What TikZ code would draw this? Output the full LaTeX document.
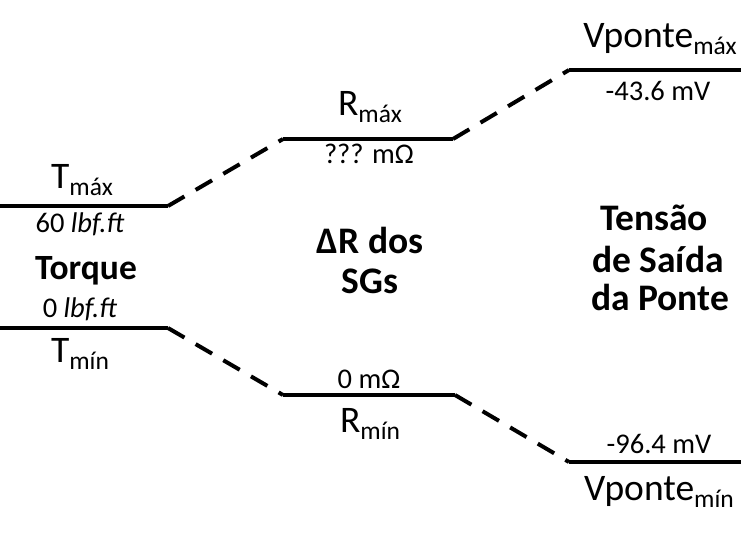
\documentclass[tikz,border=0pt]{standalone}
\usepackage{fontspec}
\setmainfont{Carlito}
\newcommand\lowsub[1]{\raisebox{-7.5pt}{\fontsize{25.5}{28}\selectfont #1}}
\begin{document}
\begin{tikzpicture}[x=1pt,y=-1pt,
  lvl/.style={line width=3.3pt},
  conn/.style={line width=4pt, dash pattern=on 19pt off 13pt},
  big/.style={font=\fontsize{37.5}{42}\selectfont, anchor=base, inner sep=0pt},
  val/.style={font=\fontsize{28.5}{32}\selectfont, anchor=base, inner sep=0pt},
  ttl/.style={font=\bfseries\fontsize{37.5}{42}\selectfont, anchor=base, inner sep=0pt},
]
\useasboundingbox (0,0) rectangle (752,533);
% level end points
\coordinate (tmaxL) at (0,206);   \coordinate (tmaxR) at (168,206);
\coordinate (rmaxL) at (283,139); \coordinate (rmaxR) at (453,139);
\coordinate (vmaxL) at (569,70);  \coordinate (vmaxR) at (741,70);
\coordinate (tminL) at (0,328);   \coordinate (tminR) at (168,328);
\coordinate (rminL) at (283,395); \coordinate (rminR) at (455,395);
\coordinate (vminL) at (569,462); \coordinate (vminR) at (741,462);
% levels
\draw[lvl] (tmaxL) -- (tmaxR);
\draw[lvl] (rmaxL) -- (rmaxR);
\draw[lvl] (vmaxL) -- (vmaxR);
\draw[lvl] (tminL) -- (tminR);
\draw[lvl] (rminL) -- (rminR);
\draw[lvl] (vminL) -- (vminR);
% connectors
\draw[conn] (tmaxR) -- (rmaxL);
\draw[conn] (rmaxR) -- (vmaxL);
\draw[conn] (tminR) -- (rminL);
\draw[conn] (rminR) -- (vminL);
% labels: torque
\node[big] (tmax) at (82,188) {T\lowsub{máx}};
\node[val] (t60) at (80,232) {60 \textit{lbf.ft}};
\node[ttl, font=\bfseries\fontsize{35.5}{40}\selectfont] (torque) at (86,279) {Torque};
\node[val] (t0) at (80,317) {0 \textit{lbf.ft}};
\node[big] (tmin) at (80,362) {T\lowsub{mín}};
% labels: resistance
\node[big] (rmax) at (370,115) {R\lowsub{máx}};
\node[val] (rq) at (369,163) {??? mΩ};
\node[ttl] (dr1) at (370,253) {ΔR dos};
\node[ttl] (dr2) at (370,293) {SGs};
\node[val] (r0) at (369,388) {0 mΩ};
\node[big] (rmin) at (370,432) {R\lowsub{mín}};
% labels: bridge voltage
\node[big] (vmax) at (660,47) {Vponte\lowsub{máx}};
\node[val] (v43) at (658,100) {-43.6 mV};
\node[ttl] (ts1) at (654,230) {Tensão};
\node[ttl] (ts2) at (658,272) {de Saída};
\node[ttl] (ts3) at (660,310) {da Ponte};
\node[val] (v96) at (659,453) {-96.4 mV};
\node[big] (vmin) at (659,500) {Vponte\lowsub{mín}};
\end{tikzpicture}
\end{document}
